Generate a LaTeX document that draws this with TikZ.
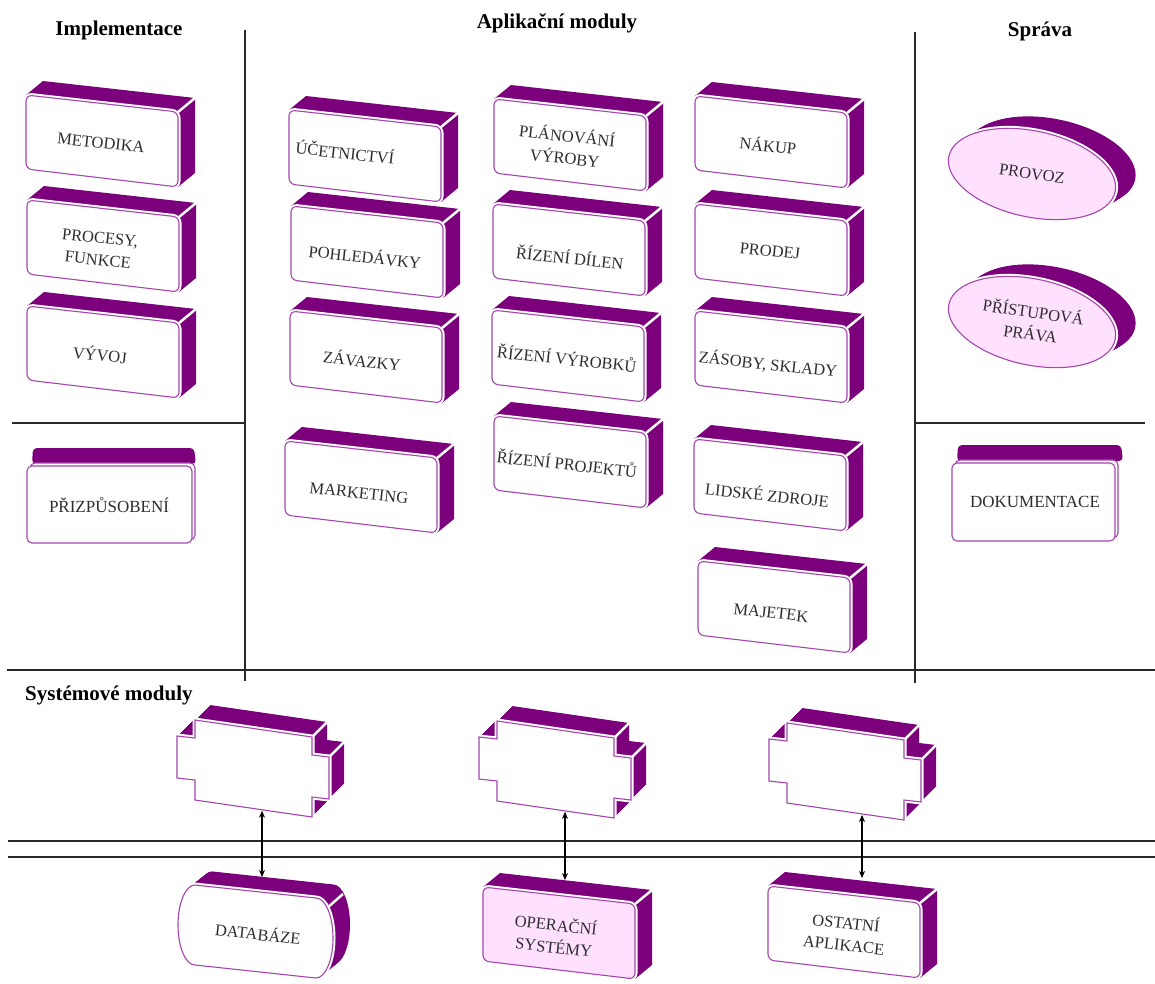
\documentclass[tikz,border=0pt]{standalone}
\usepackage{fontspec}
\setmainfont{Liberation Serif}
\usetikzlibrary{arrows.meta}
\definecolor{purp}{RGB}{124,0,124}
\definecolor{edgep}{RGB}{165,70,175}
\definecolor{pinkf}{RGB}{255,225,255}
\definecolor{txt}{RGB}{45,45,45}
\definecolor{gridc}{RGB}{40,40,40}
\tikzset{
  purface/.style={fill=purp},
  gapline/.style={draw=white, line width=5},
  faceline/.style={draw=edgep, line width=1.1},
  sepline/.style={draw=white, line width=2.5},
  lbl/.style={text=txt, font=\fontsize{16.5}{22}\selectfont, align=center, inner sep=0pt, rotate=-6},
  flatlbl/.style={text=txt, font=\fontsize{17}{20}\selectfont, inner sep=0pt},
  ttl/.style={font=\bfseries\fontsize{21}{24}\selectfont, inner sep=0pt},
  gridline/.style={draw=gridc, line width=1.2},
  link/.style={draw=black, line width=1.1, {Stealth[length=7pt,width=6pt]}-{Stealth[length=7pt,width=6pt]}},
}
% [fill]{name}{front top-left}{text}{text position}
\newcommand{\appbox}[5][white]{%
  \begin{scope}[shift={(#3)}]
    \fill[purface] (0,0) -- (17,-14) -- (169,3) -- (169,78) -- (152,92) -- (152,17) -- cycle;
    \draw[sepline] (152,17) -- (169,3);
    \path[gapline, rounded corners=6] (0,0) -- (152,17) -- (152,92) -- (0,74) -- cycle;
    \path[faceline, fill=#1, rounded corners=6] (0,0) -- (152,17) -- (152,92) -- (0,74) -- cycle;
  \end{scope}
  \node[lbl] (#2) at (#5) {#4};}
% {name}{front top-left}{x of the connector end, relative}
\newcommand{\crossbox}[3]{%
  \begin{scope}[shift={(#2)}]
    \foreach \t in {0,1,...,15} {
      \fill[purface, shift={(\t,-\t)}] (0,0) -- (117,17) -- (117,35) -- (134,37) -- (134,79) -- (117,77) -- (117,97) -- (0,80) -- (0,60) -- (-18,58) -- (-18,16) -- (0,18) -- cycle;}
    \draw[sepline] (117,17) -- (132,2);
    \draw[sepline] (134,37) -- (149,22);
    \path[gapline] (0,0) -- (117,17) -- (117,35) -- (134,37) -- (134,79) -- (117,77) -- (117,97) -- (0,80) -- (0,60) -- (-18,58) -- (-18,16) -- (0,18) -- cycle;
    \path[faceline, fill=white] (0,0) -- (117,17) -- (117,35) -- (134,37) -- (134,79) -- (117,77) -- (117,97) -- (0,80) -- (0,60) -- (-18,58) -- (-18,16) -- (0,18) -- cycle;
    \coordinate (#1) at ({#3},{81+0.145*#3});
  \end{scope}}
% {name}{center}{text}
\newcommand{\ovalbox}[3]{%
  \foreach \t in {0,1,...,20} {
    \fill[purface, shift={(\t,{-0.6*\t})}, rotate around={12:(#2)}] (#2) ellipse [x radius=85, y radius=43];}
  \path[gapline, rotate around={12:(#2)}] (#2) ellipse [x radius=85, y radius=43];
  \path[faceline, fill=pinkf, rotate around={12:(#2)}] (#2) ellipse [x radius=85, y radius=43];
  \node[lbl, rotate=-2] (#1) at (#2) {#3};}

\begin{document}
\begin{tikzpicture}[x=1pt, y=1pt, yscale=-1]
\useasboundingbox (0,0) rectangle (1155,983);

% grid lines
\draw[gridline] (245,30) -- (245,681);
\draw[gridline] (915,32) -- (915,683);
\draw[gridline] (12,423) -- (245,423);
\draw[gridline] (915,423) -- (1145,423);
\draw[gridline] (7,670) -- (1155,670);
\draw[gridline] (8,841) -- (1155,841);
\draw[gridline] (8,857) -- (1155,857);

% titles
\node[ttl] (t1) at (119,30) {Implementace};
\node[ttl] (t2) at (557,23) {Aplikační moduly};
\node[ttl] (t3) at (1040,31) {Správa};
\node[ttl, anchor=west] (t4) at (25,695) {Systémové moduly};

% implementace
\appbox{metodika}{26,95}{METODIKA}{101,143}
\appbox{procesy}{27,200}{PROCESY,\\FUNKCE}{99,249}
\appbox{vyvoj}{27,306}{VÝVOJ}{100,354}

% aplikacni moduly
\appbox{ucetnictvi}{289,110}{ÚČETNICTVÍ}{345,152}
\appbox{pohledavky}{291,206}{POHLEDÁVKY}{365,256}
\appbox{zavazky}{290,311}{ZÁVAZKY}{362,360}
\appbox{marketing}{285,441}{MARKETING}{359,493}
\appbox{planovani}{494,99}{PLÁNOVÁNÍ\\VÝROBY}{566,146}
\appbox{dilen}{493,204}{ŘÍZENÍ DÍLEN}{570,257}
\appbox{vyrobku}{492,310}{ŘÍZENÍ VÝROBKŮ}{567,358}
\appbox{projektu}{494,416}{ŘÍZENÍ PROJEKTŮ}{567,463}
\appbox{nakup}{695,96}{NÁKUP}{768,145}
\appbox{prodej}{695,204}{PRODEJ}{770,251}
\appbox{zasoby}{695,311}{ZÁSOBY, SKLADY}{768,364}
\appbox{lidske}{694,439}{LIDSKÉ ZDROJE}{767,494}
\appbox{majetek}{698,561}{MAJETEK}{771,613}

% sprava
\ovalbox{provoz}{1032,174}{PROVOZ}
\ovalbox{pristup}{1032,322}{PŘÍSTUPOVÁ\\PRÁVA}

% flat boxes
\fill[purface, rounded corners=4] (32,464) -- (33,448) -- (194,448) -- (196,464) -- cycle;
\path[faceline, fill=white, rounded corners=5] (30,463) rectangle (195,540);
\path[faceline, fill=white, rounded corners=5] (27,466) rectangle (192,543);
\node[flatlbl] (prizp) at (109,505) {PŘIZPŮSOBENÍ};

\fill[purface, rounded corners=4] (957,461) -- (958,445) -- (1121,445) -- (1123,461) -- cycle;
\path[faceline, fill=white, rounded corners=5] (955,460) rectangle (1118,538);
\path[faceline, fill=white, rounded corners=5] (952,463) rectangle (1115,541);
\node[flatlbl] (dokum) at (1035,502) {DOKUMENTACE};

% system modules
\crossbox{s1}{195,720}{67}
\crossbox{s2}{497,721}{68}
\crossbox{s3}{787,723}{75}

% bottom row
\begin{scope}[shift={(195,885)}]
  \foreach \t in {0,1,...,17} {
    \fill[purface, shift={(\t,{-0.8*\t})}] (0,0) -- (121,13) arc[start angle=-90, end angle=90, x radius=17, y radius=40] -- (0,80) arc[start angle=90, end angle=270, x radius=17, y radius=40] -- cycle;}
  \draw[sepline] (132,23) -- (148,9);
  \path[gapline] (0,0) -- (121,13) arc[start angle=-90, end angle=90, x radius=17, y radius=40] -- (0,80) arc[start angle=90, end angle=270, x radius=17, y radius=40] -- cycle;
  \path[faceline, fill=white] (0,0) -- (121,13) arc[start angle=-90, end angle=90, x radius=17, y radius=40] -- (0,80) arc[start angle=90, end angle=270, x radius=17, y radius=40] -- cycle;
\end{scope}
\node[lbl] (databaze) at (258,933) {DATABÁZE};
\appbox[pinkf]{os}{483,887}{OPERAČNÍ\\SYSTÉMY}{555,935}
\appbox{ostatni}{768,886}{OSTATNÍ\\APLIKACE}{845,933}

% connectors
\coordinate (dbtop) at (262,877);
\coordinate (ostop) at (565,880);
\coordinate (aptop) at (862,878);
\draw[link] (s1) -- (s1 |- dbtop);
\draw[link] (s2) -- (s2 |- ostop);
\draw[link] (s3) -- (s3 |- aptop);
\end{tikzpicture}
\end{document}
